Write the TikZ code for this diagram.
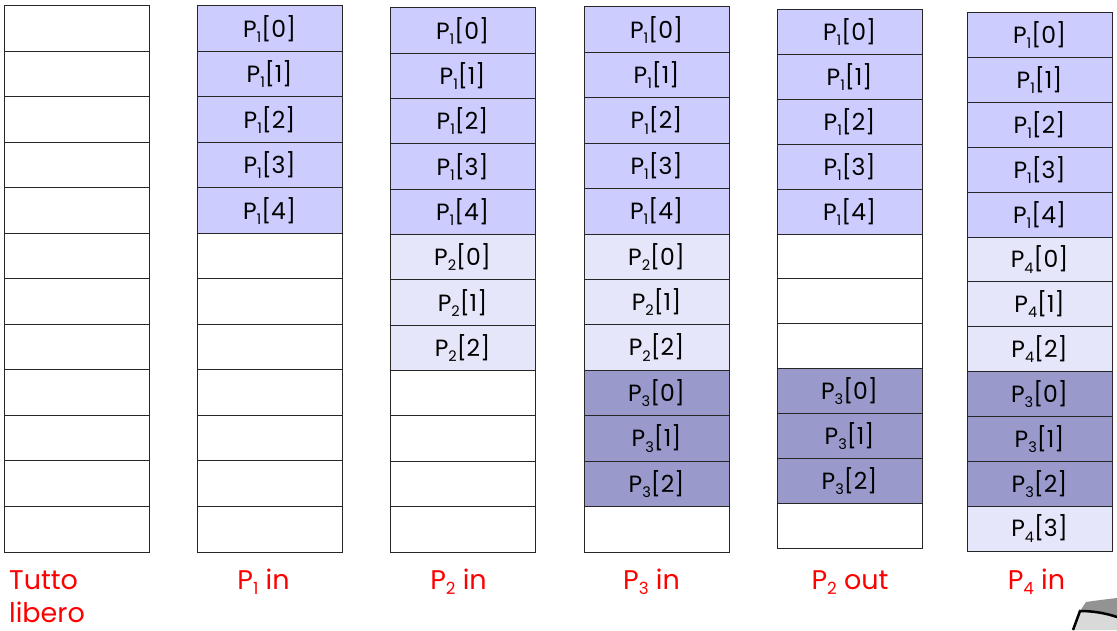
\documentclass[tikz,border=0pt]{standalone}
\usepackage{fontspec}
\setmainfont{Poppins}
\usepackage{tikz}

\definecolor{procA}{HTML}{CCCCFF}
\definecolor{procB}{HTML}{E6E6FA}
\definecolor{procC}{HTML}{9999CC}
\definecolor{labred}{HTML}{FF0000}

\newcommand{\cellh}{45.7pt}
\newcommand{\idx}[1]{\raisebox{-0.22em}{\scalebox{0.62}{#1}}}

\tikzset{
  cellfree/.style={draw=black!85, line width=1pt, fill=white, minimum width=145pt,
    minimum height=\cellh, inner sep=0pt, font=\fontsize{23.5}{23.5}\selectfont},
  cellpa/.style={cellfree, fill=procA},
  cellpb/.style={cellfree, fill=procB},
  cellpc/.style={cellfree, fill=procC},
  steplabel/.style={text=labred, inner sep=0pt, font=\fontsize{27}{33}\selectfont}
}

\begin{document}
\begin{tikzpicture}[x={(1pt,0)}, y={(0,-1pt)}] % pixel-like units, y grows downwards
\useasboundingbox (0,0) rectangle (1117,630);

% Column 1: all free
\node[cellfree] (a0) at (76.5,28.8) {};
\node[cellfree] (a1) at (76.5,74.3) {};
\node[cellfree] (a2) at (76.5,119.8) {};
\node[cellfree] (a3) at (76.5,165.3) {};
\node[cellfree] (a4) at (76.5,210.8) {};
\node[cellfree] (a5) at (76.5,256.3) {};
\node[cellfree] (a6) at (76.5,301.8) {};
\node[cellfree] (a7) at (76.5,347.3) {};
\node[cellfree] (a8) at (76.5,392.8) {};
\node[cellfree] (a9) at (76.5,438.3) {};
\node[cellfree] (a10) at (76.5,483.8) {};
\node[cellfree] (a11) at (76.5,529.3) {};

% Column 2: P1 in
\node[cellpa] (b0) at (269.5,28.8) {P\idx{1}[0]};
\node[cellpa] (b1) at (269.5,74.3) {P\idx{1}[1]};
\node[cellpa] (b2) at (269.5,119.8) {P\idx{1}[2]};
\node[cellpa] (b3) at (269.5,165.3) {P\idx{1}[3]};
\node[cellpa] (b4) at (269.5,210.8) {P\idx{1}[4]};
\node[cellfree] (b5) at (269.5,256.3) {};
\node[cellfree] (b6) at (269.5,301.8) {};
\node[cellfree] (b7) at (269.5,347.3) {};
\node[cellfree] (b8) at (269.5,392.8) {};
\node[cellfree] (b9) at (269.5,438.3) {};
\node[cellfree] (b10) at (269.5,483.8) {};
\node[cellfree] (b11) at (269.5,529.3) {};

% Column 3: P2 in
\renewcommand{\cellh}{45.5pt}
\node[cellpa] (c0) at (462.5,30.7) {P\idx{1}[0]};
\node[cellpa] (c1) at (462.5,76.0) {P\idx{1}[1]};
\node[cellpa] (c2) at (462.5,121.3) {P\idx{1}[2]};
\node[cellpa] (c3) at (462.5,166.7) {P\idx{1}[3]};
\node[cellpa] (c4) at (462.5,212.0) {P\idx{1}[4]};
\node[cellpb] (c5) at (462.5,257.3) {P\idx{2}[0]};
\node[cellpb] (c6) at (462.5,302.7) {P\idx{2}[1]};
\node[cellpb] (c7) at (462.5,348.0) {P\idx{2}[2]};
\node[cellfree] (c8) at (462.5,393.3) {};
\node[cellfree] (c9) at (462.5,438.7) {};
\node[cellfree] (c10) at (462.5,484.0) {};
\node[cellfree] (c11) at (462.5,529.3) {};

% Column 4: P3 in
\renewcommand{\cellh}{45.6pt}
\node[cellpa] (d0) at (656.5,29.7) {P\idx{1}[0]};
\node[cellpa] (d1) at (656.5,75.1) {P\idx{1}[1]};
\node[cellpa] (d2) at (656.5,120.5) {P\idx{1}[2]};
\node[cellpa] (d3) at (656.5,166.0) {P\idx{1}[3]};
\node[cellpa] (d4) at (656.5,211.4) {P\idx{1}[4]};
\node[cellpb] (d5) at (656.5,256.8) {P\idx{2}[0]};
\node[cellpb] (d6) at (656.5,302.2) {P\idx{2}[1]};
\node[cellpb] (d7) at (656.5,347.6) {P\idx{2}[2]};
\node[cellpc] (d8) at (656.5,393.0) {P\idx{3}[0]};
\node[cellpc] (d9) at (656.5,438.5) {P\idx{3}[1]};
\node[cellpc] (d10) at (656.5,483.9) {P\idx{3}[2]};
\node[cellfree] (d11) at (656.5,529.3) {};

% Column 5: P2 out
\renewcommand{\cellh}{45.0pt}
\node[cellpa] (e0) at (849.5,32.4) {P\idx{1}[0]};
\node[cellpa] (e1) at (849.5,77.3) {P\idx{1}[1]};
\node[cellpa] (e2) at (849.5,122.1) {P\idx{1}[2]};
\node[cellpa] (e3) at (849.5,166.9) {P\idx{1}[3]};
\node[cellpa] (e4) at (849.5,211.8) {P\idx{1}[4]};
\node[cellfree] (e5) at (849.5,256.6) {};
\node[cellfree] (e6) at (849.5,301.4) {};
\node[cellfree] (e7) at (849.5,346.3) {};
\node[cellpc] (e8) at (849.5,391.1) {P\idx{3}[0]};
\node[cellpc] (e9) at (849.5,435.9) {P\idx{3}[1]};
\node[cellpc] (e10) at (849.5,480.8) {P\idx{3}[2]};
\node[cellfree] (e11) at (849.5,525.6) {};

% Column 6: P4 in
\node[cellpa] (f0) at (1039.5,35.4) {P\idx{1}[0]};
\node[cellpa] (f1) at (1039.5,80.3) {P\idx{1}[1]};
\node[cellpa] (f2) at (1039.5,125.1) {P\idx{1}[2]};
\node[cellpa] (f3) at (1039.5,169.9) {P\idx{1}[3]};
\node[cellpa] (f4) at (1039.5,214.8) {P\idx{1}[4]};
\node[cellpb] (f5) at (1039.5,259.6) {P\idx{4}[0]};
\node[cellpb] (f6) at (1039.5,304.4) {P\idx{4}[1]};
\node[cellpb] (f7) at (1039.5,349.3) {P\idx{4}[2]};
\node[cellpc] (f8) at (1039.5,394.1) {P\idx{3}[0]};
\node[cellpc] (f9) at (1039.5,438.9) {P\idx{3}[1]};
\node[cellpc] (f10) at (1039.5,483.8) {P\idx{3}[2]};
\node[cellpb] (f11) at (1039.5,528.6) {P\idx{4}[3]};

% Labels under the columns
\node[steplabel, anchor=north west, align=left] (la) at (9,570) {Tutto\\libero};
\node[steplabel, anchor=base] (lb) at (263.5,589) {P\idx{1} in};
\node[steplabel, anchor=base] (lc) at (458.5,589) {P\idx{2} in};
\node[steplabel, anchor=base] (ld) at (651.5,589) {P\idx{3} in};
\node[steplabel, anchor=base] (le) at (850,589) {P\idx{2} out};
\node[steplabel, anchor=base] (lf) at (1036.5,589) {P\idx{4} in};

% corner of a page peeking in at the bottom right
\fill[gray!85] (1086,602) .. controls (1100,600) .. (1117,598) -- (1117,617) .. controls (1105,613) and (1093,611) .. (1080,611) -- cycle;
\fill[gray!30] (1080,611) .. controls (1093,611) and (1105,613) .. (1117,617) -- (1117,630) -- (1073,630) -- cycle;
\draw[line width=2.5pt] (1073,630) -- (1080,611) .. controls (1093,611) and (1105,613) .. (1117,617);

\end{tikzpicture}
\end{document}
